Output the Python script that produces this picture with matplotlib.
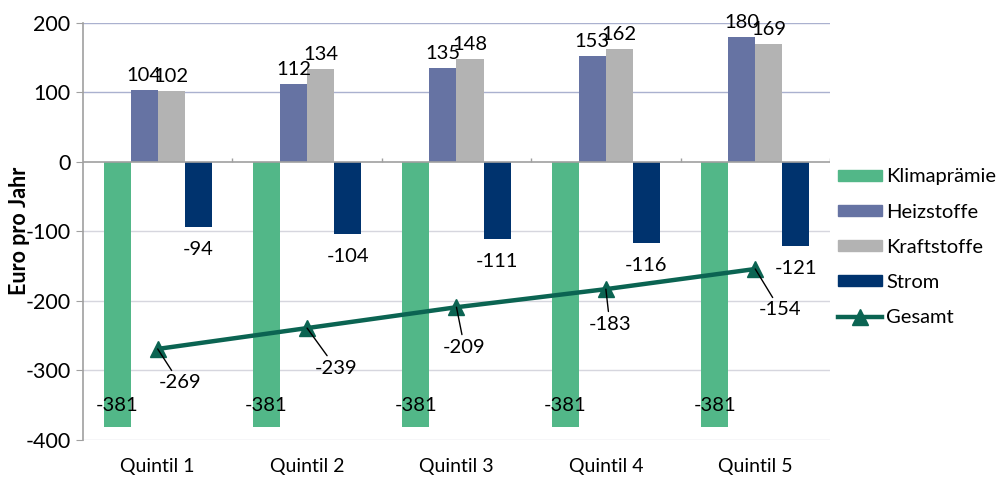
import numpy as np
import matplotlib
matplotlib.use("Agg")
import matplotlib.pyplot as plt
from matplotlib.patches import Patch
from matplotlib.lines import Line2D

plt.rcParams['font.family'] = ['Lato', 'DejaVu Sans']

# DATA

quintile = ['Quintil 1', 'Quintil 2', 'Quintil 3', 'Quintil 4', 'Quintil 5']
klima = [-381, -381, -381, -381, -381]
heiz = [104, 112, 135, 153, 180]
kraft = [102, 134, 148, 162, 169]
strom = [-94, -104, -111, -116, -121]
gesamt = [-269, -239, -209, -183, -154]

# label offsets for the Gesamt line (pixels)
ges_off = [(22, -34), (29, -40), (8, -40), (4, -35), (25, -41)]

c_klima = '#52b788'
c_heiz = '#6673a3'
c_kraft = '#b3b3b3'
c_strom = '#00336e'
c_ges = '#0b6452'

fig = plt.figure(figsize=(10.06, 4.8), dpi=100)
ax = fig.add_axes([0.0825, 0.0833, 0.7425, 0.869])

x = np.arange(len(quintile))
w = 0.181

# gridlines
for v in [200, 100]:
    ax.axhline(v, color='#aab1cf', lw=1, zorder=0)
for v in [-100, -200, -300, -400]:
    ax.axhline(v, color='#d6d6de', lw=1, zorder=0)

ax.bar(x - 1.5*w, klima, w, color=c_klima, zorder=2)
ax.bar(x - 0.5*w, heiz, w, color=c_heiz, zorder=2)
ax.bar(x + 0.5*w, kraft, w, color=c_kraft, zorder=2)
ax.bar(x + 1.5*w, strom, w, color=c_strom, zorder=2)

ax.axhline(0, color='#a0a0a0', lw=1.2, zorder=3)
ax.vlines(np.arange(len(quintile)) + 0.5, 0, 6, color='#a0a0a0', lw=1, zorder=3)

ax.plot(x, gesamt, color=c_ges, lw=3.2, marker='^', markersize=11, zorder=4)

fs = 14.5
for i in range(len(x)):
    ax.text(x[i] - 1.5*w, -350, str(klima[i]), ha='center', va='center', fontsize=fs, zorder=5)
    ax.annotate(str(heiz[i]), (x[i] - 0.5*w, heiz[i]), xytext=(0, 6), textcoords='offset pixels',
                ha='center', va='bottom', fontsize=fs, annotation_clip=False)
    ax.annotate(str(kraft[i]), (x[i] + 0.5*w, kraft[i]), xytext=(0, 6), textcoords='offset pixels',
                ha='center', va='bottom', fontsize=fs, annotation_clip=False)
    ax.annotate(str(strom[i]), (x[i] + 1.5*w, strom[i]), xytext=(0, -14), textcoords='offset pixels',
                ha='center', va='top', fontsize=fs)
    ax.annotate(str(gesamt[i]), (x[i], gesamt[i]), xytext=ges_off[i], textcoords='offset pixels',
                ha='center', va='center', fontsize=fs, zorder=5,
                arrowprops=dict(arrowstyle='-', color='black', lw=1, shrinkA=1, shrinkB=0))

ax.set_xlim(-0.5, 4.5)
ax.set_ylim(-400, 200)
ax.set_yticks([200, 100, 0, -100, -200, -300, -400])
ax.set_yticklabels(['200', '100', '0', '-100', '-200', '-300', '-400'], fontsize=15.5)
ax.set_xticks(x)
ax.set_xticklabels(quintile, fontsize=14)
ax.tick_params(axis='x', length=0, pad=13)
ax.tick_params(axis='y', length=5, color='#a0a0a0', direction='out', pad=4)

for s in ['top', 'right', 'bottom']:
    ax.spines[s].set_visible(False)
ax.spines['left'].set_color('#a0a0a0')
ax.spines['left'].set_linewidth(1.2)

fig.text(0.019, 0.52, 'Euro pro Jahr', rotation=90, ha='center', va='center',
         fontsize=15.5, fontweight='bold')

handles = [Patch(color=c_klima), Patch(color=c_heiz), Patch(color=c_kraft), Patch(color=c_strom),
           Line2D([], [], color=c_ges, lw=3.2, marker='^', markersize=11)]
labels = ['Klimaprämie', 'Heizstoffe', 'Kraftstoffe', 'Strom', 'Gesamt']
fig.legend(handles, labels, loc='center left', bbox_to_anchor=(0.833, 0.485), frameon=False,
           fontsize=14.5, handlelength=2.2, handleheight=0.5, handletextpad=0.2, labelspacing=0.9,
           borderaxespad=0, borderpad=0)

fig.savefig('out.png', dpi=100)
